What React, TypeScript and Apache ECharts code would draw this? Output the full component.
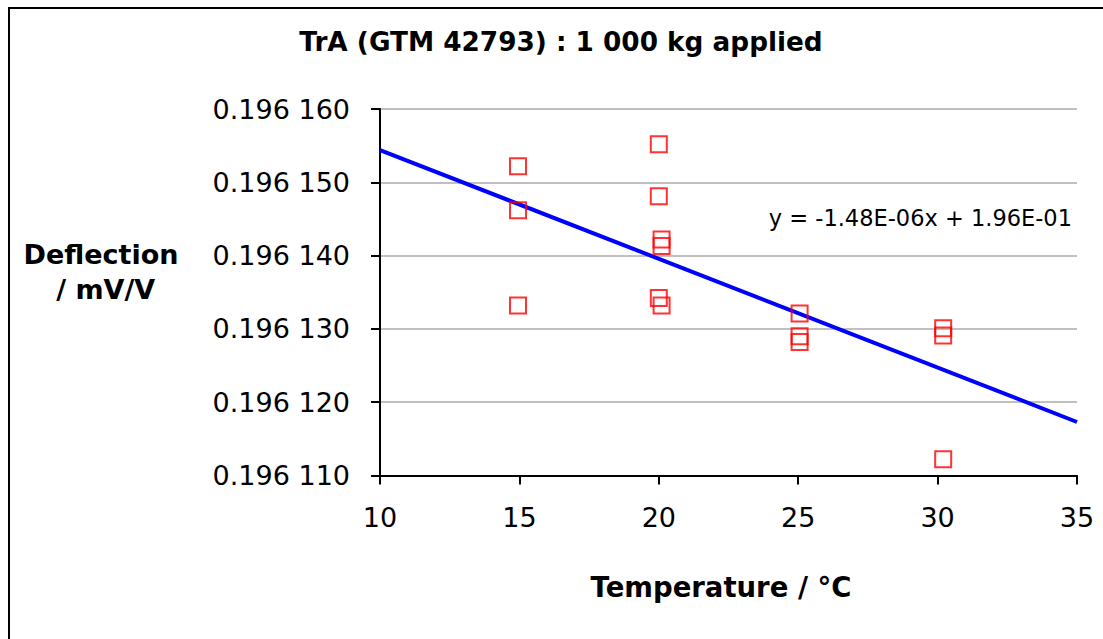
import React, { useEffect, useRef } from "react";
import * as echarts from "echarts";

// Temperature (°C) of each measurement
const temps = [14.95, 14.95, 14.95, 20.0, 20.0, 20.1, 20.1, 20.0, 20.1, 25.05, 25.05, 25.05, 30.2, 30.2, 30.2];
// Deflection in units of 1e-6 mV/V (0.196152 -> 196152)
const deflections = [196152.2, 196146.2, 196133.2, 196155.2, 196148.1, 196142.2, 196141.3, 196134.2, 196133.2, 196132.1, 196129.0, 196128.2, 196130.1, 196129.1, 196112.2];
// Linear trend line end points
const trendX = [10, 35];
const trendY = [196154.4, 196117.3];

const titleText = "TrA (GTM 42793) : 1 000 kg applied";
const xName = "Temperature / °C";
const yName = "Deflection\n / mV/V";
const equation = "y = -1.48E-06x + 1.96E-01";

const FONT = "DejaVu Sans";

export default function App() {
  const ref = useRef<HTMLDivElement>(null);
  useEffect(() => {
    if (!ref.current) return;
    const chart = echarts.init(ref.current, undefined, { renderer: "svg" });
    const points = temps.map((t, i) => [t, deflections[i]]);
    const trend = trendX.map((x, i) => [x, trendY[i]]);
    chart.setOption({
      animation: false,
      backgroundColor: "#ffffff",
      grid: { left: 380, right: 26, top: 109, bottom: 639 - 475.5 },
      xAxis: {
        type: "value",
        min: 10,
        max: 35,
        interval: 5,
        axisLine: { show: true, lineStyle: { color: "#000", width: 2 } },
        axisTick: { show: true, length: 9, lineStyle: { color: "#000", width: 2 } },
        axisLabel: { color: "#000", fontFamily: FONT, fontSize: 27, margin: 28 },
        splitLine: { show: false },
      },
      yAxis: {
        type: "value",
        min: 196110,
        max: 196160,
        interval: 10,
        axisLine: { show: true, onZero: false, lineStyle: { color: "#000", width: 2 } },
        axisTick: { show: true, length: 9, lineStyle: { color: "#000", width: 2 } },
        axisLabel: {
          color: "#000",
          fontFamily: FONT,
          fontSize: 27,
          margin: 30,
          formatter: (v: number) => {
            const s = String(Math.round(v));
            return "0." + s.slice(0, 3) + " " + s.slice(3);
          },
        },
        splitLine: { show: true, lineStyle: { color: "#c0c0c0", width: 2 } },
      },
      series: [
        {
          type: "line",
          data: trend,
          symbol: "none",
          lineStyle: { color: "#0000ff", width: 4 },
          z: 2,
        },
        {
          type: "scatter",
          data: points,
          symbol: "rect",
          symbolSize: 16,
          itemStyle: { color: "rgba(0,0,0,0)", borderColor: "#ff0000", borderWidth: 2 },
          z: 3,
        },
      ],
      graphic: [
        {
          type: "rect",
          shape: { x: 9, y: 8, width: 1200, height: 700 },
          style: { fill: "none", stroke: "#000", lineWidth: 2 },
          silent: true,
        },
        {
          type: "text",
          x: 561,
          y: 42,
          style: {
            text: titleText,
            fontFamily: FONT,
            fontWeight: "bold",
            fontSize: 26.3,
            fill: "#000",
            align: "center",
            verticalAlign: "middle",
          },
        },
        {
          type: "text",
          x: 721,
          y: 587,
          style: {
            text: xName,
            fontFamily: FONT,
            fontWeight: "bold",
            fontSize: 27.5,
            fill: "#000",
            align: "center",
            verticalAlign: "middle",
          },
        },
        {
          type: "text",
          x: 101,
          y: 272,
          style: {
            text: yName,
            fontFamily: FONT,
            fontWeight: "bold",
            fontSize: 27,
            lineHeight: 35,
            fill: "#000",
            align: "center",
            verticalAlign: "middle",
          },
        },
        {
          type: "text",
          x: 1072,
          y: 218,
          style: {
            text: equation,
            fontFamily: FONT,
            fontSize: 22.5,
            fill: "#000",
            align: "right",
            verticalAlign: "middle",
          },
        },
      ],
    });
    return () => chart.dispose();
  }, []);
  return (
    <div
      ref={ref}
      style={{ position: "fixed", left: 0, top: 0, width: 1103, height: 639 }}
    />
  );
}
